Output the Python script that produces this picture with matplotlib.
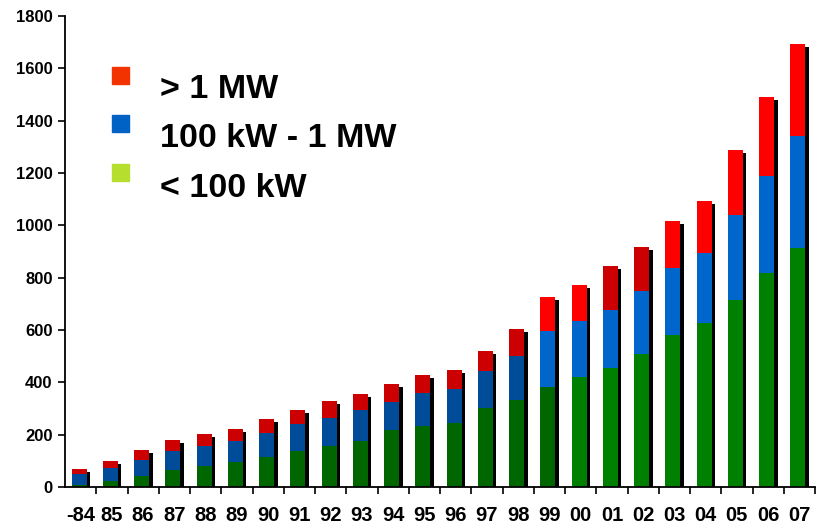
import matplotlib
matplotlib.use("Agg")
import matplotlib.pyplot as plt
from matplotlib import font_manager
from matplotlib.patches import Rectangle

years = ['-84', '85', '86', '87', '88', '89', '90', '91', '92', '93', '94', '95',
         '96', '97', '98', '99', '00', '01', '02', '03', '04', '05', '06', '07']
small = [6, 23, 43, 66, 81, 97, 115, 138, 158, 176, 219, 234,
         245, 303, 334, 382, 420, 456, 509, 581, 627, 716, 818, 914]
medium = [45, 51, 61, 72, 77, 79, 91, 104, 107, 119, 107, 125,
          129, 140, 168, 214, 214, 222, 240, 257, 267, 323, 372, 428]
large = [18, 25, 37, 42, 45, 46, 54, 52, 64, 60, 69, 70,
         73, 77, 102, 130, 138, 166, 168, 178, 199, 249, 300, 351]
labels = ['> 1 MW', '100 kW - 1 MW', '< 100 kW']

# colours change a bit from bar to bar in the original
green = ['#006600'] * 16 + ['#008000'] * 8
blue = ['#004C99'] * 15 + ['#0066CC'] * 9
red = ['#CC0000'] * 15 + ['#FF0000'] * 2 + ['#CC0000'] * 2 + ['#FF0000'] * 5
legend_colors = ['#F23300', '#0062C4', '#B6DE2E']

names = {f.name for f in font_manager.fontManager.ttflist}
main_font = 'Liberation Sans' if 'Liberation Sans' in names else 'DejaVu Sans'
narrow_font = 'Liberation Sans Narrow' if 'Liberation Sans Narrow' in names else main_font

W, H = 819, 525
fig = plt.figure(figsize=(W / 100, H / 100), dpi=100)
ax = fig.add_axes([65 / W, 38 / H, 750 / W, 471 / H])

x = list(range(len(years)))
total = [s + m + l for s, m, l in zip(small, medium, large)]
mid_bottom = [s + m for s, m in zip(small, medium)]

# black shadow behind each stack
ax.bar([i + 0.06 for i in x], total, width=0.48, bottom=-11, color='black', zorder=1)
ax.bar([i - 0.05 for i in x], small, width=0.48, color=green, zorder=2)
ax.bar([i - 0.05 for i in x], medium, width=0.48, bottom=small, color=blue, zorder=2)
ax.bar([i - 0.05 for i in x], large, width=0.48, bottom=mid_bottom, color=red, zorder=2)

ax.set_xlim(-0.5, len(years) - 0.5)
ax.set_ylim(0, 1800)
ax.set_yticks(range(0, 1801, 200))
ax.set_xticks(x)
ax.set_xticklabels(years)
ax.set_xticks([i - 0.5 for i in range(1, len(years) + 1)], minor=True)
ax.tick_params(axis='x', which='major', length=0, pad=14)
ax.tick_params(axis='x', which='minor', length=5, width=1.2, direction='out')
ax.tick_params(axis='y', length=5, width=1.2, direction='out', pad=4)

for lab in ax.get_xticklabels():
    lab.set_fontfamily(narrow_font)
    lab.set_fontweight('bold')
    lab.set_fontsize(14.5)
for lab in ax.get_yticklabels():
    lab.set_fontfamily(main_font)
    lab.set_fontweight('bold')
    lab.set_fontsize(12)

for side in ['top', 'right']:
    ax.spines[side].set_visible(False)
for side in ['left', 'bottom']:
    ax.spines[side].set_linewidth(1.3)

# legend drawn by hand, like the original
square_y = [75.5, 123.5, 172]
text_y = [98, 147, 197]
for c, lab, sy, ty in zip(legend_colors, labels, square_y, text_y):
    fig.patches.append(Rectangle((112 / W, 1 - (sy + 8.5) / H), 17 / W, 17 / H,
                                 transform=fig.transFigure, color=c, figure=fig))
    fig.text(160 / W, 1 - ty / H, lab, fontsize=24.5, fontweight='bold',
             family=main_font, va='baseline', ha='left')

fig.savefig('out.png', dpi=100)
